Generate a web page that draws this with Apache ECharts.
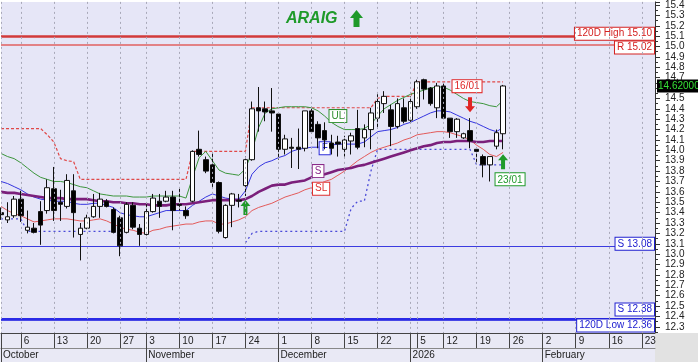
<!DOCTYPE html>
<html><head><meta charset="utf-8">
<script src="https://cdn.jsdelivr.net/npm/echarts@6/dist/echarts.min.js"></script>
<style>html,body{margin:0;padding:0;background:#fff}#c{width:698px;height:362px}</style>
</head><body><div id="c"></div>
<script>
const dates = [
'2025-10-01','2025-10-02','2025-10-03','2025-10-06','2025-10-07','2025-10-08','2025-10-09','2025-10-10',
'2025-10-13','2025-10-14','2025-10-15','2025-10-16','2025-10-17','2025-10-20','2025-10-21','2025-10-22',
'2025-10-23','2025-10-24','2025-10-27','2025-10-28','2025-10-30','2025-10-31',
'2025-11-03','2025-11-04','2025-11-05','2025-11-06','2025-11-07','2025-11-10','2025-11-11','2025-11-12',
'2025-11-13','2025-11-14','2025-11-17','2025-11-18','2025-11-19','2025-11-20','2025-11-21','2025-11-24',
'2025-11-25','2025-11-26','2025-11-27','2025-11-28',
'2025-12-01','2025-12-02','2025-12-03','2025-12-04','2025-12-05','2025-12-08','2025-12-09','2025-12-10',
'2025-12-11','2025-12-12','2025-12-15','2025-12-16','2025-12-17','2025-12-18','2025-12-19','2025-12-22',
'2025-12-23','2025-12-24','2025-12-29','2025-12-30',
'2026-01-02','2026-01-05','2026-01-07','2026-01-08','2026-01-09','2026-01-12','2026-01-13','2026-01-14',
'2026-01-15','2026-01-16','2026-01-19','2026-01-20','2026-01-21','2026-01-22','2026-01-23','2026-01-26',
'2026-01-27','2026-01-28','2026-01-29','2026-01-30',
'2026-02-02','2026-02-03','2026-02-04','2026-02-05','2026-02-06','2026-02-09','2026-02-10','2026-02-11',
'2026-02-12','2026-02-13','2026-02-16','2026-02-17','2026-02-18','2026-02-19','2026-02-20','2026-02-23',
'2026-02-24','2026-02-25'
];
// [open, close, low, high]
const candles = [
[13.40,13.38,13.33,13.45],[13.33,13.36,13.30,13.50],[13.37,13.53,13.35,13.56],[13.53,13.37,13.31,13.61],
[13.23,13.26,13.20,13.42],[13.25,13.21,13.20,13.30],[13.41,13.28,13.09,13.51],[13.42,13.64,13.39,13.72],
[13.63,13.42,13.32,13.84],[13.50,13.48,13.32,13.62],[13.46,13.71,13.44,13.77],[13.61,13.40,13.16,13.77],
[13.19,13.25,12.94,13.30],[13.25,13.35,13.24,13.38],[13.36,13.46,13.35,13.58],[13.46,13.53,13.35,13.59],
[13.51,13.46,13.45,13.53],[13.43,13.21,13.20,13.45],[13.35,13.08,12.98,13.37],[13.21,13.48,13.20,13.50],
[13.47,13.26,13.24,13.50],[13.25,13.19,13.08,13.29],[13.19,13.41,13.18,13.48],[13.41,13.54,13.40,13.58],
[13.51,13.46,13.35,13.58],[13.51,13.55,13.50,13.61],[13.55,13.42,13.23,13.61],[13.48,13.47,13.42,13.63],
[13.42,13.37,13.34,13.46],[13.51,13.99,13.50,14.00],[14.01,13.96,13.94,14.19],[13.91,13.80,13.78,13.94],
[13.86,13.69,13.64,13.98],[13.69,13.22,13.20,13.70],[13.16,13.47,13.15,13.48],[13.47,13.58,13.26,13.59],
[13.52,13.51,13.45,13.58],[13.66,13.91,13.56,13.94],[13.91,14.40,13.90,14.47],[14.41,14.38,14.18,14.61],
[14.40,14.37,14.28,14.47],[14.38,14.36,14.18,14.60],[14.35,14.01,13.91,14.36],[14.01,14.11,13.96,14.15],
[14.03,14.02,13.83,14.12],[14.03,14.01,13.82,14.21],[14.02,14.38,13.99,14.38],[14.38,14.18,14.16,14.42],
[14.25,14.12,14.02,14.28],[14.19,14.10,14.01,14.27],[14.07,14.02,13.96,14.15],[14.08,14.06,13.94,14.14],
[14.01,14.10,13.94,14.14],[14.09,14.14,13.96,14.17],[14.21,14.03,14.01,14.39],[14.12,14.20,14.03,14.25],
[14.20,14.36,14.01,14.41],[14.31,14.47,14.21,14.54],[14.45,14.52,14.36,14.57],[14.39,14.23,14.04,14.44],
[14.23,14.45,14.21,14.50],[14.41,14.28,14.26,14.50],[14.29,14.47,14.26,14.52],[14.42,14.66,14.40,14.68],
[14.68,14.59,14.49,14.69],[14.60,14.45,14.43,14.61],[14.41,14.62,14.31,14.65],[14.62,14.31,14.30,14.65],
[14.31,14.18,14.12,14.31],[14.18,14.30,14.12,14.31],[14.12,14.16,14.11,14.17],[14.19,14.09,14.02,14.31],
[14.01,13.99,13.87,14.01],[13.94,13.86,13.74,13.96],[13.86,13.94,13.70,13.94],[14.04,14.17,14.01,14.20],
[14.16,14.62,14.01,14.63]
];
const ulLine = [13.97,13.94,13.92,13.88,13.83,13.78,13.74,13.72,13.70,13.70,13.69,13.67,13.65,13.64,13.61,13.58,
13.57,13.56,13.56,13.56,13.55,13.55,13.55,13.56,13.56,13.56,13.56,13.56,13.54,13.74,13.93,13.99,13.90,13.81,
13.78,13.77,13.76,13.82,13.99,14.22,14.36,14.40,14.41,14.42,14.42,14.42,14.42,14.41,14.38,14.33,14.27,14.23,
14.20,14.20,14.20,14.21,14.25,14.33,14.40,14.44,14.48,14.51,14.54,14.56,14.58,14.60,14.61,14.61,14.58,14.54,
14.50,14.47,14.46,14.45,14.43,14.42,14.48];
const fLine = [13.70,13.68,13.65,13.62,13.58,13.55,13.53,13.52,13.51,13.51,13.51,13.49,13.48,13.48,13.49,13.49,
13.47,13.45,13.40,13.38,13.37,13.36,13.36,13.38,13.40,13.42,13.42,13.42,13.42,13.47,13.51,13.55,13.58,13.56,
13.54,13.53,13.53,13.61,13.77,13.84,13.88,13.90,13.93,13.95,13.99,14.01,14.02,14.03,14.03,14.04,14.05,14.06,
14.06,14.06,14.06,14.08,14.13,14.18,14.19,14.20,14.22,14.25,14.27,14.30,14.33,14.36,14.38,14.38,14.37,14.34,
14.31,14.28,14.26,14.23,14.20,14.18,14.22];
const slLine = [13.46,13.42,13.39,13.37,13.34,13.31,13.32,13.33,13.34,13.34,13.34,13.33,13.32,13.32,13.33,13.34,
13.32,13.29,13.26,13.24,13.23,13.21,13.20,13.23,13.24,13.26,13.27,13.28,13.29,13.29,13.31,13.32,13.32,13.29,
13.29,13.31,13.33,13.36,13.42,13.45,13.47,13.49,13.52,13.55,13.57,13.59,13.62,13.64,13.67,13.70,13.72,13.76,
13.80,13.85,13.90,13.94,13.98,14.01,14.03,14.05,14.07,14.10,14.12,14.15,14.16,14.17,14.18,14.18,14.17,14.15,
14.13,14.10,14.05,14.01,13.96,13.94,13.98];
const sLine = [13.60,13.59,13.59,13.58,13.57,13.56,13.55,13.54,13.54,13.54,13.53,13.53,13.53,13.53,13.52,13.51,
13.51,13.50,13.50,13.49,13.49,13.48,13.48,13.47,13.47,13.47,13.48,13.48,13.48,13.49,13.50,13.51,13.52,13.52,
13.52,13.52,13.52,13.53,13.56,13.60,13.63,13.66,13.67,13.67,13.69,13.70,13.71,13.74,13.76,13.77,13.79,13.81,
13.82,13.83,13.85,13.86,13.88,13.90,13.92,13.94,13.96,13.98,14.00,14.02,14.04,14.05,14.07,14.08,14.08,14.09,
14.09,14.09,14.08,14.08,14.09,14.09,14.09];
const resistStair = [14.21,14.21,14.21,14.21,14.21,14.21,14.21,14.15,14.08,13.92,13.90,13.89,
13.72,13.72,13.72,13.72,13.72,13.72,13.72,13.72,13.72,13.72,13.72,13.72,13.72,13.72,13.72,13.72,13.72,
13.99,13.99,13.99,13.99,13.99,13.99,13.99,13.99,13.99,
14.41,14.41,14.41,14.41,14.41,14.41,14.41,14.41,14.41,14.41,14.41,14.41,14.41,14.41,14.41,14.41,14.41,14.41,14.41,
14.50,14.52,14.52,14.52,14.52,14.52,
14.66,14.66,14.66,14.66,14.66,14.66,14.66,14.66,14.66,14.66,14.66,14.66,14.66,14.66];
const supportStair = [13.34,13.34,13.34,13.34,
13.22,13.22,13.22,13.22,13.22,13.22,13.22,13.22,13.22,13.22,13.22,13.22,13.22,13.22,13.16,
null,null,null,null,null,null,null,null,null,null,null,null,null,null,null,null,null,null,
13.11,13.20,13.22,13.22,13.22,13.22,13.22,13.22,13.22,13.22,13.22,13.22,13.22,13.22,13.22,13.22,
13.44,13.51,13.51,13.80,
14.01,14.01,14.01,14.01,14.01,14.01,14.01,14.01,14.01,14.01,14.01,14.01,14.01,14.01,14.01,
13.86,13.86,13.86,13.86,13.86];
const levelValues = [15.10, 15.02, 13.08, 12.38, 12.36];
const levelTexts = ['120D High 15.10', 'R 15.02', 'S 13.08', 'S 12.38', '120D Low 12.36'];
const weekTicks = ['2025-10-06','2025-10-13','2025-10-20','2025-10-27','2025-11-03','2025-11-10','2025-11-17',
'2025-11-24','2025-12-01','2025-12-08','2025-12-15','2025-12-22','2026-01-05','2026-01-12','2026-01-19',
'2026-01-26','2026-02-02','2026-02-09','2026-02-16','2026-02-23'];
const monthStarts = ['2025-10-01','2025-11-03','2025-12-01','2026-01-02','2026-02-02'];
const monthLabels = ['October','November','December','2026','February'];
const lastPrice = 14.62;
const signalDates = ['2025-11-24','2026-01-16','2026-01-23'];
const signalValues = [13.45, 14.44, 13.89];
const signalDirs = ['up','down','up'];
const signalTexts = ['', '16/01', '23/01'];
const tagDates = ['2025-12-12','2025-12-10','2025-12-09','2025-12-09'];
const tagValues = [14.33, 14.02, 13.80, 13.63];
const tagTexts = ['UL','F','S','SL'];

const FONT = 'Liberation Sans, Arial, sans-serif';
const weekSet = new Set(weekTicks), monthSet = new Set(monthStarts);
const GREEN = '#1f9a2a', RED = '#e02424';
const UP = 'path://M5,0 L10,6 L7,6 L7,15 L3,15 L3,6 L0,6 Z';
const DOWN = 'path://M3,0 L7,0 L7,9 L10,9 L5,15 L0,9 L3,9 Z';
const lastIdx = dates[dates.length - 1];

function boxLabel(text, color, pos, extra) {
  return Object.assign({show: true, formatter: text, position: pos, color: color, backgroundColor: '#fff',
    borderColor: color, borderWidth: 1, padding: [1, 2, 0, 2], fontSize: 10, lineHeight: 11, fontFamily: FONT}, extra || {});
}
function tag(i, color) {
  return {symbol: 'rect', symbolSize: 0, animation: false,
    data: [{coord: [tagDates[i], tagValues[i]], label: boxLabel(tagTexts[i], color, 'inside', i === 3 ? {offset: [3, 0]} : {})}]};
}

const levelColors = ['#d23a3a', '#e06060', '#3b3be0', '#2a2ae6', '#4848e6'];
const levelWidths = [2.5, 1.5, 1, 2, 1.2];
const levelOffsets = [-2.5, 3, -2, -9, 5];

const markPoints = levelValues.map((v, i) => ({
  coord: [lastIdx, v], symbolSize: 0,
  label: boxLabel(levelTexts[i], i < 2 ? '#d42020' : '#2020d0', 'left', {distance: 1, offset: [0, levelOffsets[i]]})
}));
markPoints.push({coord: [lastIdx, lastPrice], symbolSize: 0,
  label: {show: true, position: 'right', distance: 2, formatter: lastPrice.toFixed(5), color: '#35e035',
    backgroundColor: '#000', padding: [2, 1, 1, 1], fontSize: 10, fontFamily: FONT}});
signalDates.forEach((d, i) => {
  const up = signalDirs[i] === 'up';
  const color = up ? GREEN : RED;
  const mp = {coord: [d, signalValues[i]], symbol: up ? UP : DOWN, symbolSize: [10, 15], itemStyle: {color: color}};
  if (signalTexts[i]) {
    mp.label = boxLabel(signalTexts[i], color, up ? 'bottom' : 'top', {distance: up ? 4 : 5, offset: up ? [7, 0] : [-3, 0]});
  } else {
    mp.label = {show: false};
  }
  markPoints.push(mp);
});

const chart = echarts.init(document.getElementById('c'), null, {renderer: 'canvas'});
chart.setOption({
  animation: false,
  backgroundColor: '#ffffff',
  title: {text: 'ARAIG', left: 286, top: 11, padding: 0,
    textStyle: {color: GREEN, fontSize: 16, fontWeight: 'bold', fontStyle: 'italic', fontFamily: FONT}},
  graphic: [
    {type: 'polygon', z: 10, shape: {points: [[356.5,10],[363,18],[359.5,18],[359.5,27],[353.5,27],[353.5,18],[350,18]]},
      style: {fill: GREEN}},
    {type: 'rect', z: 10, silent: true, shape: {x: 0, y: 333, width: 655, height: 29}, style: {fill: '#e9e9f5'}},
    {type: 'rect', z: 10, silent: true, shape: {x: 655, y: 333, width: 43, height: 29}, style: {fill: '#e2e2e2'}}
  ],
  grid: {left: 0, right: 43, top: 0, bottom: 24.8, show: true, backgroundColor: '#e6e6f7', borderWidth: 0},
  xAxis: [
    {type: 'category', data: dates, boundaryGap: false, position: 'bottom', offset: -4.2, z: 20,
      axisLine: {show: true, lineStyle: {color: '#444', width: 1}},
      axisTick: {show: true, length: 15, interval: (i, v) => weekSet.has(v) || monthSet.has(v), lineStyle: {color: '#444'}},
      axisLabel: {show: true, interval: (i, v) => weekSet.has(v), formatter: v => String(parseInt(v.slice(8), 10)),
        align: 'left', verticalAlign: 'top', margin: 3, padding: [0, 0, 0, 3], fontSize: 10, color: '#222', fontFamily: FONT},
      splitLine: {show: true, interval: (i, v) => weekSet.has(v) || monthSet.has(v),
        lineStyle: {color: '#a8a8b8', width: 1, type: [2, 3]}}
    },
    {type: 'category', data: dates, boundaryGap: false, position: 'bottom', offset: 10.8, z: 20,
      axisLine: {show: true, lineStyle: {color: '#888', width: 1}},
      axisTick: {show: true, length: 14, interval: (i, v) => monthSet.has(v), lineStyle: {color: '#444'}},
      axisLabel: {show: true, interval: (i, v) => monthSet.has(v), formatter: v => monthLabels[monthStarts.indexOf(v)],
        align: 'left', verticalAlign: 'top', margin: 2, padding: [0, 0, 0, 2], fontSize: 10, color: '#222', fontFamily: FONT},
      splitLine: {show: false}
    }
  ],
  yAxis: {type: 'value', position: 'right', min: 12.2, max: 15.43, interval: 0.1,
    axisLine: {show: true, lineStyle: {color: '#333'}},
    axisTick: {show: true, length: 5, lineStyle: {color: '#333'}},
    minorTick: {show: true, splitNumber: 2, length: 3, lineStyle: {color: '#333'}},
    axisLabel: {show: true, margin: 10, fontSize: 10, color: '#222', fontFamily: FONT, showMinLabel: false, showMaxLabel: false,
      formatter: v => v.toFixed(1)},
    splitLine: {show: false}
  },
  series: [
    {type: 'line', data: resistStair, symbol: 'none', silent: true, z: 2,
      lineStyle: {color: '#e04848', width: 1.2, type: [3, 2]}},
    {type: 'line', data: supportStair, symbol: 'none', silent: true, z: 2, connectNulls: false,
      lineStyle: {color: '#4a4ad8', width: 1.3, type: [2, 3]}},
    {type: 'line', data: ulLine, symbol: 'none', silent: true, z: 3,
      lineStyle: {color: '#3c963c', width: 1}, markPoint: tag(0, '#2f8f2f')},
    {type: 'line', data: fLine, symbol: 'none', silent: true, z: 3,
      lineStyle: {color: '#3535e0', width: 1}, markPoint: tag(1, '#2b2bd8')},
    {type: 'line', data: slLine, symbol: 'none', silent: true, z: 3,
      lineStyle: {color: '#e35a5a', width: 1}, markPoint: tag(3, '#e03030')},
    {type: 'line', data: sLine, symbol: 'none', silent: true, z: 3,
      lineStyle: {color: '#7b1f7b', width: 2.6}, markPoint: tag(2, '#8a2a8a')},
    {type: 'candlestick', data: candles, barWidth: 5, z: 5,
      itemStyle: {color: '#ffffff', color0: '#000000', borderColor: '#111', borderColor0: '#111', borderWidth: 1},
      markLine: {silent: true, symbol: ['none', 'none'], label: {show: false}, animation: false,
        data: levelValues.map((v, i) => ({yAxis: v, lineStyle: {color: levelColors[i], width: levelWidths[i], type: 'solid'}}))},
      markPoint: {animation: false, data: markPoints}
    }
  ]
});
</script></body></html>
